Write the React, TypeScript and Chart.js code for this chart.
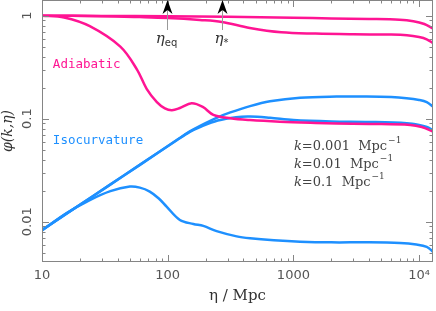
import React, { useEffect, useRef } from "react";
import { Chart, registerables } from "chart.js";

Chart.register(...registerables);

// Axis ranges
const X_MIN = 10;
const X_MAX = 12900;
const Y_MIN = 0.00406;
const Y_MAX = 1.42;

// Tick labels
const xTickValues = [10, 100, 1000, 10000];
const xTickLabels = ["10", "100", "1000", "10⁴"];
const yTickValues = [0.01, 0.1, 1];
const yTickLabels = ["0.01", "0.1", "1"];

// Adiabatic, k = 0.001
const etaAd1 = [10, 30, 100, 300, 1000, 2000, 4000, 7000, 9000, 11000, 12900];
const phiAd1 = [1.0, 0.995, 0.99, 0.975, 0.955, 0.94, 0.93, 0.915, 0.885, 0.83, 0.75];

// Adiabatic, k = 0.01
const etaAd2 = [10, 30, 60, 100, 180, 270, 450, 800, 1500, 3000, 6000, 8000, 10000, 11500, 12900];
const phiAd2 = [1.0, 0.99, 0.97, 0.95, 0.91, 0.87, 0.76, 0.69, 0.67, 0.66, 0.655, 0.645, 0.62, 0.59, 0.54];

// Adiabatic, k = 0.1
const etaAd3 = [10, 15, 24, 42, 57, 68, 82, 95, 108, 125, 155, 190, 231, 315, 450, 780, 1500, 2200, 4000, 8500, 10500, 12900];
const phiAd3 = [1.0, 0.96, 0.79, 0.5, 0.3, 0.195, 0.145, 0.126, 0.121, 0.127, 0.141, 0.13, 0.109, 0.101, 0.097, 0.0935, 0.091, 0.09, 0.089, 0.087, 0.083, 0.075];

// Isocurvature, k = 0.001
const etaIso1 = [10, 20, 33, 60, 118, 150, 181, 250, 315, 452, 651, 1130, 2200, 3830, 6000, 7940, 10000, 11500, 12900];
const phiIso1 = [0.0083, 0.0146, 0.0219, 0.0356, 0.062, 0.0752, 0.0853, 0.103, 0.115, 0.1325, 0.1475, 0.16, 0.164, 0.164, 0.162, 0.158, 0.152, 0.145, 0.131];

// Isocurvature, k = 0.01
const etaIso2 = [10, 20, 33, 60, 118, 150, 181, 250, 350, 452, 651, 1000, 2000, 4000, 8000, 10000, 11500, 12900];
const phiIso2 = [0.0083, 0.0146, 0.0219, 0.0356, 0.0617, 0.0745, 0.083, 0.096, 0.1035, 0.105, 0.102, 0.097, 0.094, 0.093, 0.0905, 0.087, 0.083, 0.077];

// Isocurvature, k = 0.1
const etaIso3 = [10, 15.7, 24, 35, 50, 60, 72, 85, 98, 125, 160, 192, 245, 354, 452, 700, 1130, 2000, 4000, 7050, 9500, 11500, 12900];
const phiIso3 = [0.0082, 0.0121, 0.0162, 0.0198, 0.0219, 0.0214, 0.0196, 0.0168, 0.014, 0.0104, 0.0095, 0.0091, 0.0081, 0.0072, 0.0069, 0.0066, 0.0064, 0.0063, 0.0063, 0.0062, 0.006, 0.0057, 0.0051];

// Markers
const markerEta = [98, 272];
const markerSymbol = ["η", "η"];
const markerSub = ["eq", "*"];

// Annotations
const groupLabels = ["Adiabatic", "Isocurvature"];
const groupEta = [12.2, 12.2];
const groupPhi = [0.332, 0.0607];

const legendK = ["0.001", "0.01", "0.1"];
const legendEta = 1010;
const legendPhi = [0.0533, 0.0356, 0.0238];

const PINK = "#ff1493";
const BLUE = "#1e90ff";

const pts = (xs: number[], ys: number[]) => xs.map((x, i) => ({ x, y: ys[i] }));

const overlayPlugin = {
  id: "overlay",
  afterDatasetsDraw(chart: any) {
    const { ctx, chartArea, scales } = chart;
    const { left, right, top, bottom } = chartArea;
    const xs = scales.x;
    const ys = scales.y;
    ctx.save();
    // frame
    ctx.strokeStyle = "#858585";
    ctx.lineWidth = 1;
    ctx.strokeRect(left + 0.5, top + 0.5, right - left - 1, bottom - top - 1);
    // inward ticks
    ctx.beginPath();
    for (let e = 1; e <= 4; e++) {
      for (let m = 1; m <= 9; m++) {
        const v = m * Math.pow(10, e);
        if (v < X_MIN || v > X_MAX) continue;
        const px = Math.round(xs.getPixelForValue(v)) + 0.5;
        const len = m === 1 ? 7 : 3.5;
        ctx.moveTo(px, bottom);
        ctx.lineTo(px, bottom - len);
        ctx.moveTo(px, top);
        ctx.lineTo(px, top + len);
      }
    }
    for (let e = -3; e <= 0; e++) {
      for (let m = 1; m <= 9; m++) {
        const v = m * Math.pow(10, e);
        if (v < Y_MIN || v > Y_MAX) continue;
        const py = Math.round(ys.getPixelForValue(v)) + 0.5;
        const len = m === 1 ? 7 : 3.5;
        ctx.moveTo(left, py);
        ctx.lineTo(left + len, py);
        ctx.moveTo(right, py);
        ctx.lineTo(right - len, py);
      }
    }
    ctx.stroke();

    // markers
    markerEta.forEach((eta, i) => {
      const px = Math.round(xs.getPixelForValue(eta)) + 0.5;
      ctx.strokeStyle = "#999";
      ctx.lineWidth = 1;
      ctx.beginPath();
      ctx.moveTo(px, top + 8);
      ctx.lineTo(px, top + 30);
      ctx.stroke();
      ctx.fillStyle = "#000";
      ctx.beginPath();
      ctx.moveTo(px, top);
      ctx.lineTo(px + 5, top + 14);
      ctx.lineTo(px, top + 10);
      ctx.lineTo(px - 5, top + 14);
      ctx.closePath();
      ctx.fill();
      ctx.fillStyle = "#333";
      ctx.textBaseline = "alphabetic";
      ctx.textAlign = "left";
      ctx.font = "italic 15px 'DejaVu Serif'";
      const w1 = ctx.measureText(markerSymbol[i]).width;
      ctx.font = "10px 'DejaVu Sans'";
      const w2 = ctx.measureText(markerSub[i]).width;
      const x0 = px - (w1 + w2) / 2 - 1;
      ctx.font = "italic 15px 'DejaVu Serif'";
      ctx.fillText(markerSymbol[i], x0, top + 43);
      ctx.font = "10px 'DejaVu Sans'";
      ctx.fillText(markerSub[i], x0 + w1, top + 46);
    });

    // group labels
    ctx.textBaseline = "middle";
    ctx.textAlign = "left";
    ctx.font = "12.5px 'DejaVu Sans Mono'";
    groupLabels.forEach((t, i) => {
      ctx.fillStyle = i === 0 ? PINK : BLUE;
      ctx.fillText(t, xs.getPixelForValue(groupEta[i]), ys.getPixelForValue(groupPhi[i]));
    });

    // legend text
    ctx.fillStyle = "#444";
    legendK.forEach((k, i) => {
      let x = xs.getPixelForValue(legendEta);
      const y = ys.getPixelForValue(legendPhi[i]);
      ctx.textBaseline = "middle";
      ctx.font = "italic 13px 'DejaVu Serif'";
      ctx.fillText("k", x, y);
      x += ctx.measureText("k").width;
      ctx.font = "13px 'DejaVu Serif'";
      const s = "=" + k + "  Mpc";
      ctx.fillText(s, x, y);
      x += ctx.measureText(s).width;
      ctx.font = "9px 'DejaVu Serif'";
      ctx.fillText("−1", x + 1, y - 6);
    });
    ctx.restore();
  },
};

export default function App() {
  const canvasRef = useRef<HTMLCanvasElement | null>(null);

  useEffect(() => {
    const canvas = canvasRef.current;
    if (!canvas) return;
    const line = (data: any, color: string) => ({
      data,
      borderColor: color,
      backgroundColor: color,
      borderWidth: 2.5,
      pointRadius: 0,
      fill: false,
      tension: 0.35,
      borderCapStyle: "round" as const,
      borderJoinStyle: "round" as const,
    });
    const chart = new Chart(canvas, {
      type: "line",
      data: {
        datasets: [
          line(pts(etaAd1, phiAd1), PINK),
          line(pts(etaAd2, phiAd2), PINK),
          line(pts(etaAd3, phiAd3), PINK),
          line(pts(etaIso1, phiIso1), BLUE),
          line(pts(etaIso2, phiIso2), BLUE),
          line(pts(etaIso3, phiIso3), BLUE),
        ],
      },
      options: {
        animation: false,
        responsive: false,
        devicePixelRatio: 1,
        layout: { padding: { top: 0, right: 3, left: 0, bottom: 0 } },
        plugins: { legend: { display: false }, tooltip: { enabled: false } },
        scales: {
          x: {
            type: "logarithmic",
            min: X_MIN,
            max: X_MAX,
            afterBuildTicks: (s: any) => {
              s.ticks = xTickValues.map((v) => ({ value: v }));
            },
            afterFit: (s: any) => {
              s.height = 49;
              s.paddingLeft = 0;
              s.paddingRight = 0;
            },
            grid: { display: false, drawTicks: false },
            border: { display: false },
            ticks: {
              autoSkip: false,
              minRotation: 0,
              maxRotation: 0,
              padding: 6,
              color: "#555",
              font: { family: "'DejaVu Sans'", size: 13 },
              callback: (v: any) => {
                const i = xTickValues.findIndex((t) => Math.abs(t - Number(v)) / t < 1e-6);
                return i >= 0 ? xTickLabels[i] : "";
              },
            },
            title: {
              display: true,
              text: "η / Mpc",
              color: "#333",
              font: { family: "'DejaVu Serif'", size: 15, lineHeight: 1 },
              padding: { top: 0, bottom: 7.5 },
            },
          },
          y: {
            type: "logarithmic",
            min: Y_MIN,
            max: Y_MAX,
            afterBuildTicks: (s: any) => {
              s.ticks = yTickValues.map((v) => ({ value: v }));
            },
            afterFit: (s: any) => {
              s.width = 42;
              s.paddingTop = 0;
              s.paddingBottom = 0;
            },
            grid: { display: false, drawTicks: false },
            border: { display: false },
            ticks: {
              minRotation: 90,
              maxRotation: 90,
              crossAlign: "center",
              padding: 0,
              color: "#555",
              font: { family: "'DejaVu Sans'", size: 13 },
              callback: (v: any) => {
                const i = yTickValues.findIndex((t) => Math.abs(t - Number(v)) / t < 1e-6);
                return i >= 0 ? yTickLabels[i] : "";
              },
            },
            title: {
              display: true,
              text: "φ(k,η)",
              color: "#333",
              font: { family: "'DejaVu Serif'", size: 14, style: "italic", lineHeight: 1 },
              padding: { top: 1, bottom: 0 },
            },
          },
        },
      },
      plugins: [overlayPlugin],
    });
    return () => chart.destroy();
  }, []);

  return (
    <div style={{ position: "absolute", left: 0, top: 0, width: 436, height: 311, background: "#fff" }}>
      <canvas ref={canvasRef} width={436} height={311} style={{ width: 436, height: 311, display: "block" }} />
    </div>
  );
}
